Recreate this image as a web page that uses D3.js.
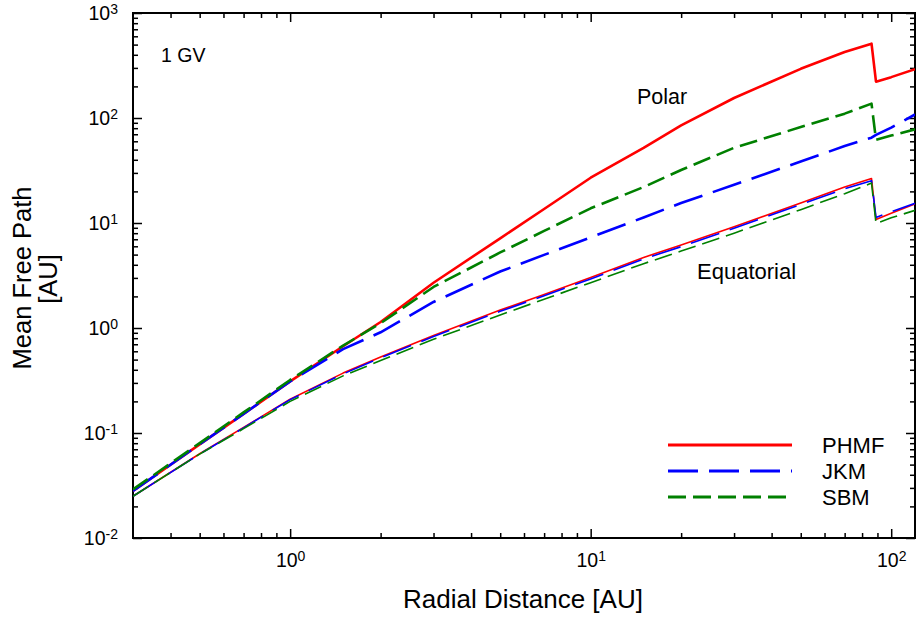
<!DOCTYPE html>
<html>
<head>
<meta charset="utf-8">
<script src="https://cdn.jsdelivr.net/npm/d3@7"></script>
<style>
body { margin: 0; background: #fff; }
svg { font-family: Arial, "Liberation Sans", sans-serif; }
</style>
</head>
<body>
<svg id="chart" width="916" height="626"></svg>
<script>
/// data ///
// radial distance grid [AU], drop at the termination shock between 86 and 89
const radius = [0.3, 0.5, 0.7, 1, 1.5, 2, 3, 5, 7, 10, 15, 20, 30, 50, 70, 86, 89, 100, 120];

// mean free path [AU], polar
const polarPHMF = [0.028, 0.078, 0.152, 0.31, 0.67, 1.14, 2.7, 7.15, 13.6, 27, 52, 85, 155, 294, 425, 510, 222, 245, 292];
const polarJKM  = [0.028, 0.078, 0.152, 0.31, 0.63, 0.91, 1.77, 3.45, 4.97, 7.3, 11.3, 15.5, 23.1, 38.5, 54, 65, 69, 81, 108];
const polarSBM  = [0.029, 0.08, 0.157, 0.32, 0.68, 1.11, 2.46, 5.24, 8.4, 13.8, 22, 32, 52, 82, 110, 137, 62, 68, 78];

// mean free path [AU], equatorial
const equPHMF = [0.025, 0.0635, 0.113, 0.21, 0.372, 0.53, 0.85, 1.48, 2.09, 3.02, 4.7, 6.17, 9.2, 15.5, 22, 26.5, 10.8, 12.4, 15.2];
const equJKM  = [0.025, 0.063, 0.112, 0.208, 0.365, 0.52, 0.83, 1.44, 2.03, 2.93, 4.55, 5.95, 8.9, 15.0, 21.2, 25.3, 11.3, 12.8, 15.4];
const equSBM  = [0.025, 0.063, 0.11, 0.2, 0.35, 0.49, 0.78, 1.33, 1.88, 2.7, 4.1, 5.4, 8.0, 13.4, 19.0, 24.0, 9.9, 11.2, 13.2];

const models = ['PHMF', 'JKM', 'SBM'];
const xMajor = [1, 10, 100];
const yMajor = [0.01, 0.1, 1, 10, 100, 1000];

/// layout ///
const pLeft = 133, pRight = 915, pTop = 13, pBottom = 538;

const svg = d3.select('#chart');

const x = d3.scaleLog().domain([0.3, 120]).range([pLeft, pRight]);
const y = d3.scaleLog().domain([0.01, 1000]).range([pBottom, pTop]);

// minor ticks 2..9 in every decade, inside the domain
function minors(scale) {
    const [a, b] = scale.domain();
    let out = [];
    for (let e = -3; e <= 3; e++) {
        for (let m = 2; m <= 9; m++) {
            const v = m * Math.pow(10, e);
            if (v > a * 1.0001 && v < b * 0.9999) out.push(v);
        }
    }
    return out;
}

// "10" with the exponent raised
function powLabel(sel) {
    sel.each(function(d) {
        const t = d3.select(this);
        const ex = Math.round(Math.log10(d));
        t.text('');
        t.append('tspan').text('10');
        t.append('tspan').attr('dy', '-0.42em').style('font-size', '14px').text(ex);
    });
}

function styleAxis(g) {
    g.select('.domain').remove();
    g.selectAll('line').attr('stroke', '#000').attr('stroke-width', 1.5);
}

// bottom
svg.append('g').attr('transform', `translate(0,${pBottom})`)
    .call(d3.axisBottom(x).tickValues(xMajor).tickSize(-9).tickPadding(15).tickFormat(d => d))
    .call(styleAxis)
    .call(g => g.selectAll('text').style('font-size', '19.5px').attr('fill', '#000').call(powLabel));
svg.append('g').attr('transform', `translate(0,${pBottom})`)
    .call(d3.axisBottom(x).tickValues(minors(x)).tickSize(-5).tickFormat(''))
    .call(styleAxis);
// top
svg.append('g').attr('transform', `translate(0,${pTop})`)
    .call(d3.axisTop(x).tickValues(xMajor).tickSize(-9).tickFormat(''))
    .call(styleAxis);
svg.append('g').attr('transform', `translate(0,${pTop})`)
    .call(d3.axisTop(x).tickValues(minors(x)).tickSize(-5).tickFormat(''))
    .call(styleAxis);
// left
svg.append('g').attr('transform', `translate(${pLeft},0)`)
    .call(d3.axisLeft(y).tickValues(yMajor).tickSize(-9).tickPadding(15).tickFormat(d => d))
    .call(styleAxis)
    .call(g => g.selectAll('text').style('font-size', '19.5px').attr('fill', '#000').call(powLabel));
svg.append('g').attr('transform', `translate(${pLeft},0)`)
    .call(d3.axisLeft(y).tickValues(minors(y)).tickSize(-5).tickFormat(''))
    .call(styleAxis);
// right
svg.append('g').attr('transform', `translate(${pRight},0)`)
    .call(d3.axisRight(y).tickValues(yMajor).tickSize(-9).tickFormat(''))
    .call(styleAxis);
svg.append('g').attr('transform', `translate(${pRight},0)`)
    .call(d3.axisRight(y).tickValues(minors(y)).tickSize(-5).tickFormat(''))
    .call(styleAxis);

// frame
svg.append('rect')
    .attr('x', pLeft).attr('y', pTop)
    .attr('width', pRight - pLeft).attr('height', pBottom - pTop)
    .attr('fill', 'none').attr('stroke', '#000').attr('stroke-width', 2);

svg.append('clipPath').attr('id', 'clip')
    .append('rect').attr('x', pLeft).attr('y', pTop)
    .attr('width', pRight - pLeft).attr('height', pBottom - pTop);

/// curves ///
const colors = { PHMF: '#ff0000', JKM: '#0000ff', SBM: '#008000' };
const dashes = { PHMF: null, JKM: '30,11', SBM: '18,7' };

const series = [
    { model: 'PHMF', vals: polarPHMF, w: 2.6 },
    { model: 'PHMF', vals: equPHMF, w: 1.6 },
    { model: 'JKM', vals: polarJKM, w: 2.6 },
    { model: 'JKM', vals: equJKM, w: 1.6 },
    { model: 'SBM', vals: polarSBM, w: 2.6 },
    { model: 'SBM', vals: equSBM, w: 1.6 }
];

const line = d3.line()
    .x(d => x(d[0]))
    .y(d => y(d[1]));

svg.append('g').attr('clip-path', 'url(#clip)')
    .selectAll('path')
    .data(series)
    .enter()
    .append('path')
    .attr('d', s => line(radius.map((r, i) => [r, s.vals[i]])))
    .attr('fill', 'none')
    .attr('stroke', s => colors[s.model])
    .attr('stroke-width', s => s.w)
    .attr('stroke-dasharray', s => dashes[s.model])
    .attr('stroke-linejoin', 'round');

/// legend ///
const legend = svg.append('g').attr('transform', 'translate(668,445)');
legend.selectAll('line')
    .data(models)
    .enter()
    .append('line')
    .attr('x1', 0)
    .attr('x2', 124)
    .attr('y1', (d, i) => i * 26)
    .attr('y2', (d, i) => i * 26)
    .attr('stroke', d => colors[d])
    .attr('stroke-width', 2.8)
    .attr('stroke-dasharray', d => dashes[d]);
legend.selectAll('text')
    .data(models)
    .enter()
    .append('text')
    .attr('x', 154)
    .attr('y', (d, i) => i * 26 + 8)
    .style('font-size', '22px')
    .text(d => d);

/// annotations ///
svg.append('text').attr('x', 161).attr('y', 62).style('font-size', '19.5px').text('1 GV');
svg.append('text').attr('x', 637).attr('y', 104).style('font-size', '21.5px').text('Polar');
svg.append('text').attr('x', 697).attr('y', 279).style('font-size', '22px').text('Equatorial');

// axis titles
svg.append('text')
    .attr('x', 523).attr('y', 608)
    .attr('text-anchor', 'middle')
    .style('font-size', '26px')
    .text('Radial Distance [AU]');
svg.append('text')
    .attr('transform', 'translate(31,278) rotate(-90)')
    .attr('text-anchor', 'middle')
    .style('font-size', '25.5px')
    .text('Mean Free Path');
svg.append('text')
    .attr('transform', 'translate(57,279) rotate(-90)')
    .attr('text-anchor', 'middle')
    .style('font-size', '25.5px')
    .text('[AU]');
</script>
</body>
</html>
